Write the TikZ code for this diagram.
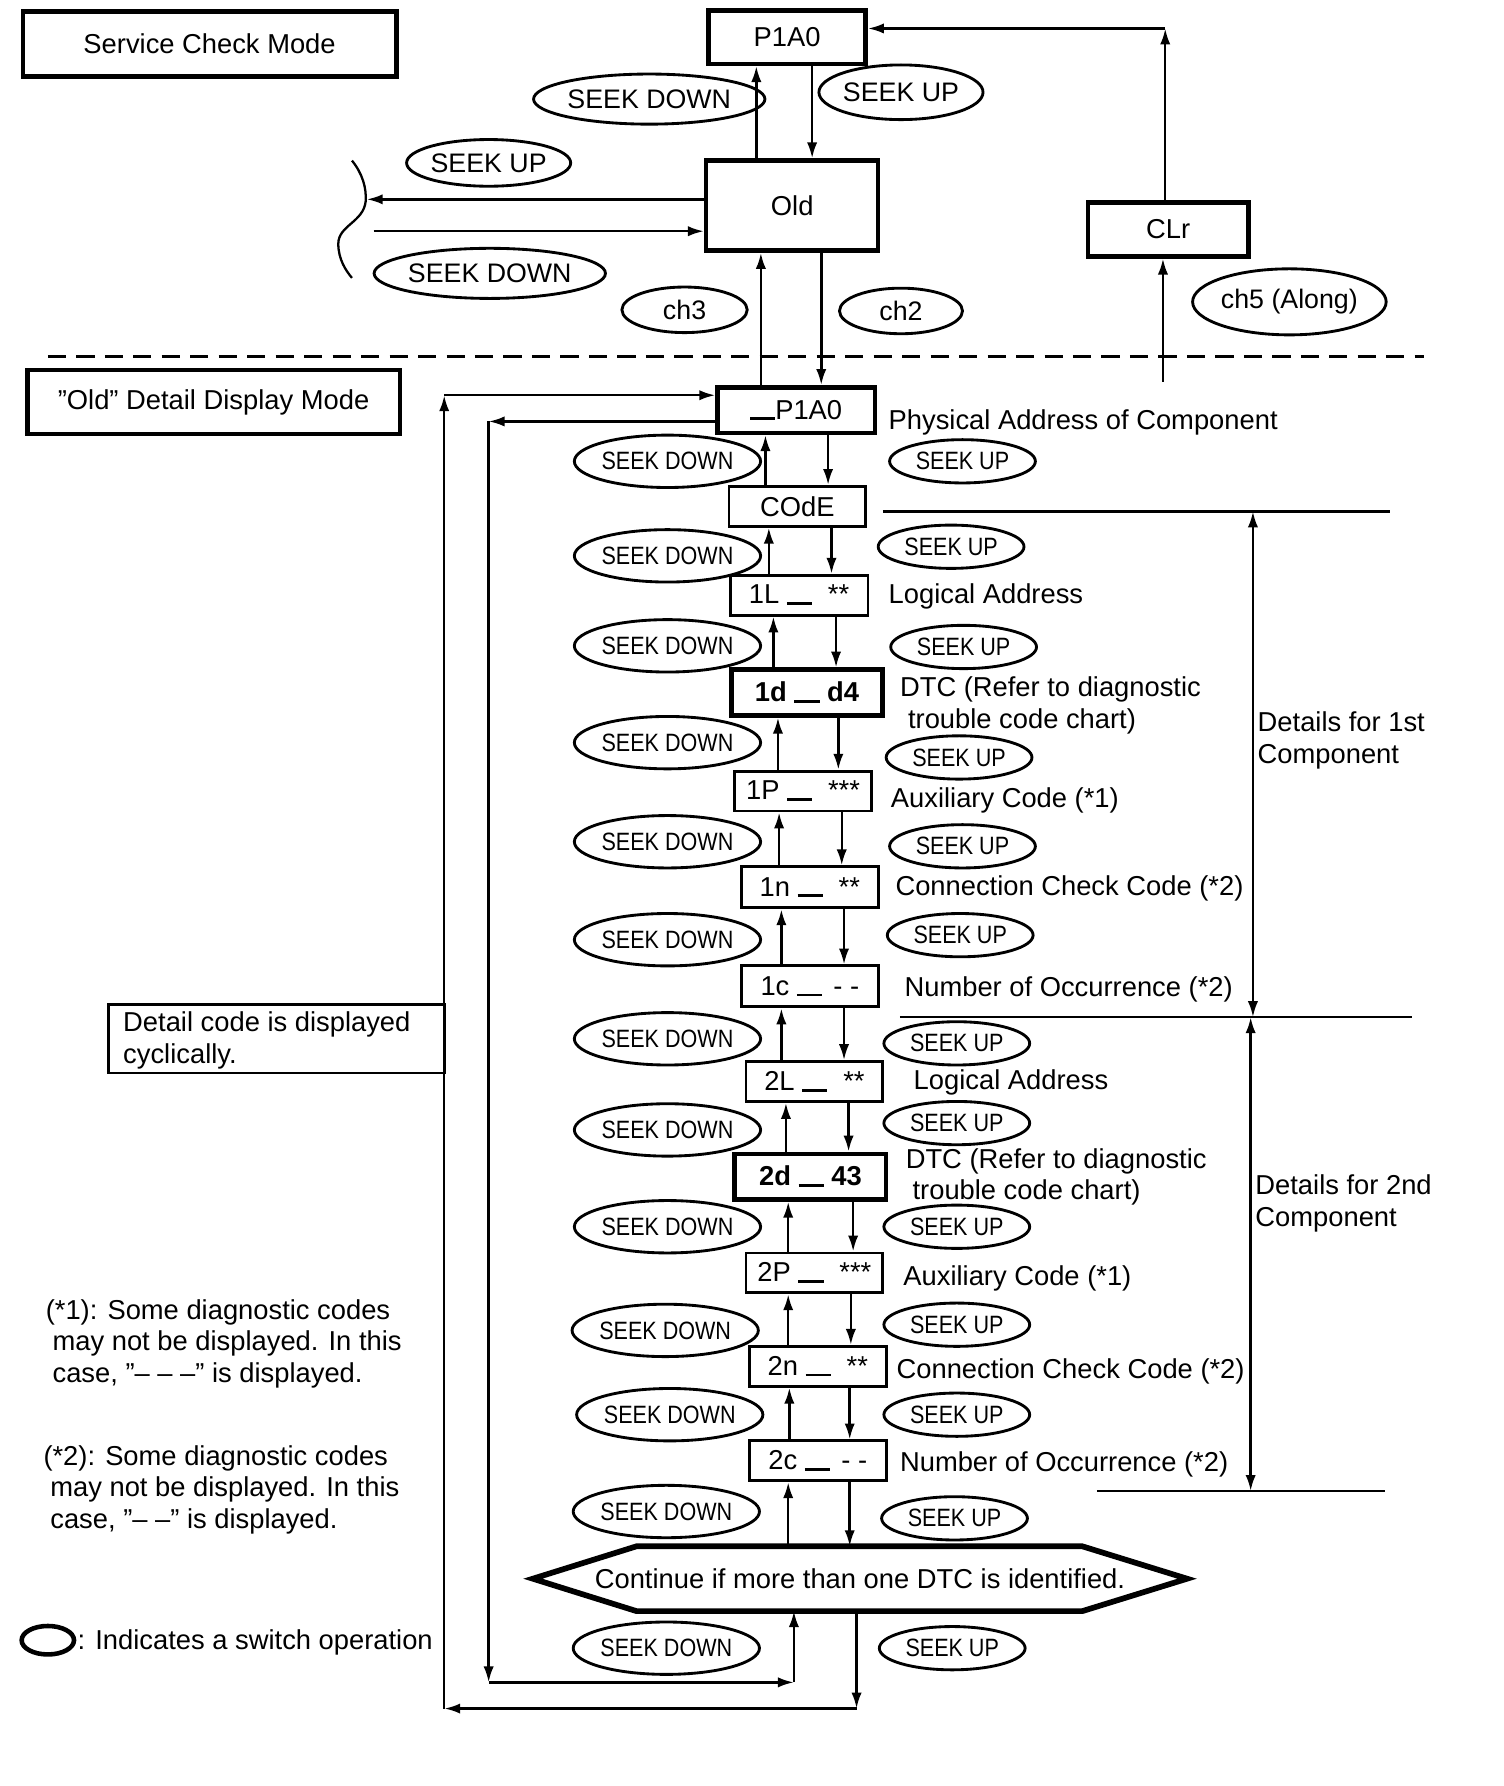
\documentclass[tikz,border=0pt]{standalone}
\usepackage{fontspec}
\setmainfont{Liberation Sans}
\newfontfamily\narrowsf[FakeStretch=0.86]{Liberation Sans}
\usetikzlibrary{arrows.meta,shapes.geometric}
\newcommand\myubar{\rule[-1pt]{22pt}{2.5pt}}
\newcommand\updn[4]{%
  \draw[arr] (#3,0 |- #1.north) -- (#3,0 |- #2.south);
  \draw[arr] (#4,0 |- #2.south) -- (#4,0 |- #1.north);}
\begin{document}
\begin{tikzpicture}[x=1pt,y=-1pt,
  thinl/.style={line width=2pt},
  arr/.style={line width=2.2pt,-{Latex[length=14pt,width=9pt]}},
  arrb/.style={line width=2.2pt,{Latex[length=14pt,width=9pt]}-{Latex[length=14pt,width=9pt]}},
  tbox/.style={draw,line width=4pt,inner sep=0pt,font=\fontsize{24}{28}\selectfont},
  nbox/.style={draw,line width=2.5pt,inner sep=0pt,minimum width=120pt,minimum height=35pt,font=\fontsize{24}{28}\selectfont},
  uell/.style={draw,ellipse,line width=2.5pt,inner sep=0pt,font=\fontsize{23.5}{26}\selectfont},
  sdn/.style={draw,ellipse,line width=2.5pt,inner sep=0pt,minimum width=130pt,minimum height=46pt,font=\narrowsf\fontsize{22}{24}\selectfont},
  sup/.style={draw,ellipse,line width=2.5pt,inner sep=0pt,minimum width=128pt,minimum height=38pt,font=\narrowsf\fontsize{22}{24}\selectfont},
  lbl/.style={anchor=west,inner sep=0pt,text height=17pt,text depth=0pt,font=\fontsize{24}{28}\selectfont}]
\useasboundingbox (0,0) rectangle (1320,1568);
\fill[white] (0,0) rectangle (1320,1568);

% ---------- Service check mode ----------
\node[tbox,minimum width=328pt,minimum height=57pt] (scm) at (184,38.5) {Service Check Mode};
\node[tbox,minimum width=138pt,minimum height=47pt] (p1a0) at (691,32.5) {P1A0};
\node[tbox,minimum width=151pt,minimum height=79pt] (old) at (695.5,180.5) {Old};
\node[tbox,minimum width=141pt,minimum height=47pt] (clr) at (1025.5,201.5) {CLr};

\node[uell,minimum width=179pt,minimum height=44pt] (e1) at (570,87) {SEEK DOWN};
\node[uell,minimum width=128pt,minimum height=48pt] (e2) at (791,81) {SEEK UP};
\node[uell,minimum width=130pt,minimum height=41pt] (e3) at (429,143) {SEEK UP};
\node[uell,minimum width=180pt,minimum height=44pt] (e4) at (430,240) {SEEK DOWN};
\node[uell,minimum width=110pt,minimum height=40pt] (e5) at (601,272) {ch3};
\node[uell,minimum width=108pt,minimum height=40pt] (e6) at (791,273) {ch2};
\node[uell,minimum width=156pt,minimum height=58pt] (e7) at (1132,265) {ch5 (Along)};

\draw[arr] (664,0 |- old.north) -- (664,0 |- p1a0.south);
\draw[arr] (713,0 |- p1a0.south) -- (713,0 |- old.north);
\coordinate (tl) at (322,175);
\coordinate (tr) at (328,203);
\draw[arr] (old.west |- tl) -- (tl);
\draw[arr] (tr) -- (old.west |- tr);
\draw[line width=2pt] (309,141) .. controls (318,152) and (322,165) .. (321,177)
  .. controls (319,195) and (297,198) .. (297,214)
  .. controls (297,228) and (304,238) .. (309,244);
\coordinate (corner) at (1023,25);
\draw[arr] (corner |- clr.north) -- (corner);
\draw[arr] (corner) -- (p1a0.east |- corner);
\coordinate (clrin) at (1021,335);
\draw[arr] (clrin) -- (clrin |- clr.south);

\draw[line width=2pt,dash pattern=on 16pt off 9pt] (42,313) -- (1250,313);

% ---------- Detail display mode ----------
\node[tbox,minimum width=327pt,minimum height=56pt] (odm) at (187.5,353) {”Old” Detail Display Mode};
\node[tbox,minimum width=138pt,minimum height=40pt] (dp) at (699,360) {\myubar P1A0};
\draw[arr] (668,0 |- dp.north) -- (668,0 |- old.south);
\draw[arr] (721,0 |- old.south) -- (721,0 |- dp.north);

\node[nbox] (code) at (700,444.5) {COdE};
\node[nbox,minimum width=121pt] (l1) at (701.5,522.5) {1L\ \myubar\hspace{14pt}**};
\node[tbox,minimum width=133pt,minimum height=40pt,font=\fontsize{24}{28}\selectfont\bfseries] (d1) at (708.5,608) {1d\ \myubar\ d4};
\node[nbox] (p1) at (705,694.5) {1P\ \myubar\hspace{14pt}***};
\node[nbox,minimum height=36pt] (n1) at (711,779) {1n\ \myubar\hspace{14pt}**};
\node[nbox,minimum height=36pt] (c1) at (711,866) {1c\ \myubar\hspace{10pt}- -};
\node[nbox] (l2) at (715,949.5) {2L\ \myubar\hspace{14pt}**};
\node[tbox,minimum width=133pt,minimum height=40pt,font=\fontsize{24}{28}\selectfont\bfseries] (d2) at (711.5,1033) {2d\ \myubar\ 43};
\node[nbox] (p2) at (715,1117.5) {2P\ \myubar\hspace{14pt}***};
\node[nbox] (n2) at (718,1199.5) {2n\ \myubar\hspace{14pt}**};
\node[nbox] (c2) at (718,1282.5) {2c\ \myubar\hspace{10pt}- -};

\node[inner sep=0pt,minimum width=574pt,minimum height=56.5pt,font=\fontsize{24}{28}\selectfont] (hex) at (755,1386) {Continue if more than one DTC is identified.};
\draw[line width=5pt,line join=miter] (hex.west) -- ([xshift=91pt]hex.north west) -- ([xshift=-92pt]hex.north east) -- (hex.east) -- ([xshift=-92pt]hex.south east) -- ([xshift=91pt]hex.south west) -- cycle;

\updn{code}{dp}{672}{727}
\updn{l1}{code}{675}{730}
\updn{d1}{l1}{679}{734}
\updn{p1}{d1}{683}{736}
\updn{n1}{p1}{684}{739}
\updn{c1}{n1}{686}{741}
\updn{l2}{c1}{686}{741}
\updn{d2}{l2}{690}{745}
\updn{p2}{d2}{692}{749}
\updn{n2}{p2}{692}{747}
\updn{c2}{n2}{693}{746}
\updn{hex}{c2}{692}{746}

% switch ellipses
\node[sdn] (sd1) at (586,405) {SEEK DOWN};
\node[sdn] (sd2) at (586,488) {SEEK DOWN};
\node[sdn] (sd3) at (586,567) {SEEK DOWN};
\node[sdn] (sd4) at (586,652) {SEEK DOWN};
\node[sdn] (sd5) at (586,739) {SEEK DOWN};
\node[sdn] (sd6) at (586,825) {SEEK DOWN};
\node[sdn] (sd7) at (586,912) {SEEK DOWN};
\node[sdn] (sd8) at (586,992) {SEEK DOWN};
\node[sdn] (sd9) at (586,1077) {SEEK DOWN};
\node[sdn] (sd10) at (584,1168) {SEEK DOWN};
\node[sdn] (sd11) at (588,1242) {SEEK DOWN};
\node[sdn] (sd12) at (585,1327) {SEEK DOWN};
\node[sdn] (sd13) at (585,1447) {SEEK DOWN};
\node[sup] (su1) at (845,405) {SEEK UP};
\node[sup] (su2) at (835,480) {SEEK UP};
\node[sup] (su3) at (846,568) {SEEK UP};
\node[sup] (su4) at (842,665) {SEEK UP};
\node[sup] (su5) at (845,743) {SEEK UP};
\node[sup] (su6) at (843,821) {SEEK UP};
\node[sup] (su7) at (840,916) {SEEK UP};
\node[sup] (su8) at (840,986) {SEEK UP};
\node[sup] (su9) at (840,1077) {SEEK UP};
\node[sup] (su10) at (840,1163) {SEEK UP};
\node[sup] (su11) at (840,1242) {SEEK UP};
\node[sup] (su12) at (838,1333) {SEEK UP};
\node[sup] (su13) at (836,1447) {SEEK UP};

% labels
\node[lbl] (t1) at (780,369) {Physical Address of Component};
\node[lbl] (t2) at (780,521) {Logical Address};
\node[lbl] (t3) at (790,603) {DTC (Refer to diagnostic};
\node[lbl] (t3b) at (797,631) {trouble code chart)};
\node[lbl] (t4) at (782,700) {Auxiliary Code (*1)};
\node[lbl] (t5) at (786,778) {Connection Check Code (*2)};
\node[lbl] (t6) at (794,866) {Number of Occurrence (*2)};
\node[lbl] (t7) at (802,948) {Logical Address};
\node[lbl] (t8) at (795,1017) {DTC (Refer to diagnostic};
\node[lbl] (t8b) at (801,1045) {trouble code chart)};
\node[lbl] (t9) at (793,1120) {Auxiliary Code (*1)};
\node[lbl] (t10) at (787,1202) {Connection Check Code (*2)};
\node[lbl] (t11) at (790,1283) {Number of Occurrence (*2)};

% details brackets
\coordinate (h1a) at (775,449);  \coordinate (h1b) at (1220,449);
\coordinate (h2a) at (790,893);  \coordinate (h2b) at (1240,893);
\coordinate (h3a) at (963,1309); \coordinate (h3b) at (1216,1309);
\draw[thinl] (h1a) -- (h1b);
\draw[thinl] (h2a) -- (h2b);
\draw[thinl] (h3a) -- (h3b);
\draw[arrb] (1100,0 |- h1a) -- (1100,0 |- h2a);
\draw[arrb] (1098,0 |- h2a) -- (1098,0 |- h3a);
\node[lbl] (dt1) at (1104,634) {Details for 1st};
\node[lbl] (dt1b) at (1104,662) {Component};
\node[lbl] (dt2) at (1102,1040) {Details for 2nd};
\node[lbl] (dt2b) at (1102,1068) {Component};

% loops
\coordinate (o1) at (390,347);
\coordinate (o2) at (390,1500);
\coordinate (o3) at (752,1500);
\draw[arr] (o3 |- hex.south) -- (o3);
\draw[arr] (o3) -- (o2);
\draw[arr] (o2) -- (o1);
\draw[arr] (o1) -- (dp.west |- o1);
\coordinate (i1) at (429,370);
\coordinate (i2) at (429,1477);
\coordinate (i3) at (697,1477);
\draw[arr] (dp.west |- i1) -- (i1);
\draw[arr] (i1) -- (i2);
\draw[arr] (i2) -- (i3);
\draw[arr] (i3) -- (i3 |- hex.south);

% cyclic note
\node[draw,line width=2.5pt,minimum width=295pt,minimum height=60pt,inner sep=0pt] (cyc) at (242.5,912) {};
\node[lbl] (cyc1) at (108,897) {Detail code is displayed};
\node[lbl] (cyc2) at (108,925) {cyclically.};

% notes
\node[lbl] (n1a) at (40,1150) {(*1): Some diagnostic codes};
\node[lbl] (n1b) at (46,1177) {may not be displayed. In this};
\node[lbl] (n1c) at (46,1205) {case, ”– – –” is displayed.};
\node[lbl] (n2a) at (38,1278) {(*2): Some diagnostic codes};
\node[lbl] (n2b) at (44,1305) {may not be displayed. In this};
\node[lbl] (n2c) at (44,1333) {case, ”– –” is displayed.};

\node[draw,ellipse,line width=4pt,minimum width=46pt,minimum height=25pt,inner sep=0pt] (leg) at (42,1440) {};
\node[lbl] (legt) at (68,1440) {: Indicates a switch operation};
\end{tikzpicture}
\end{document}
